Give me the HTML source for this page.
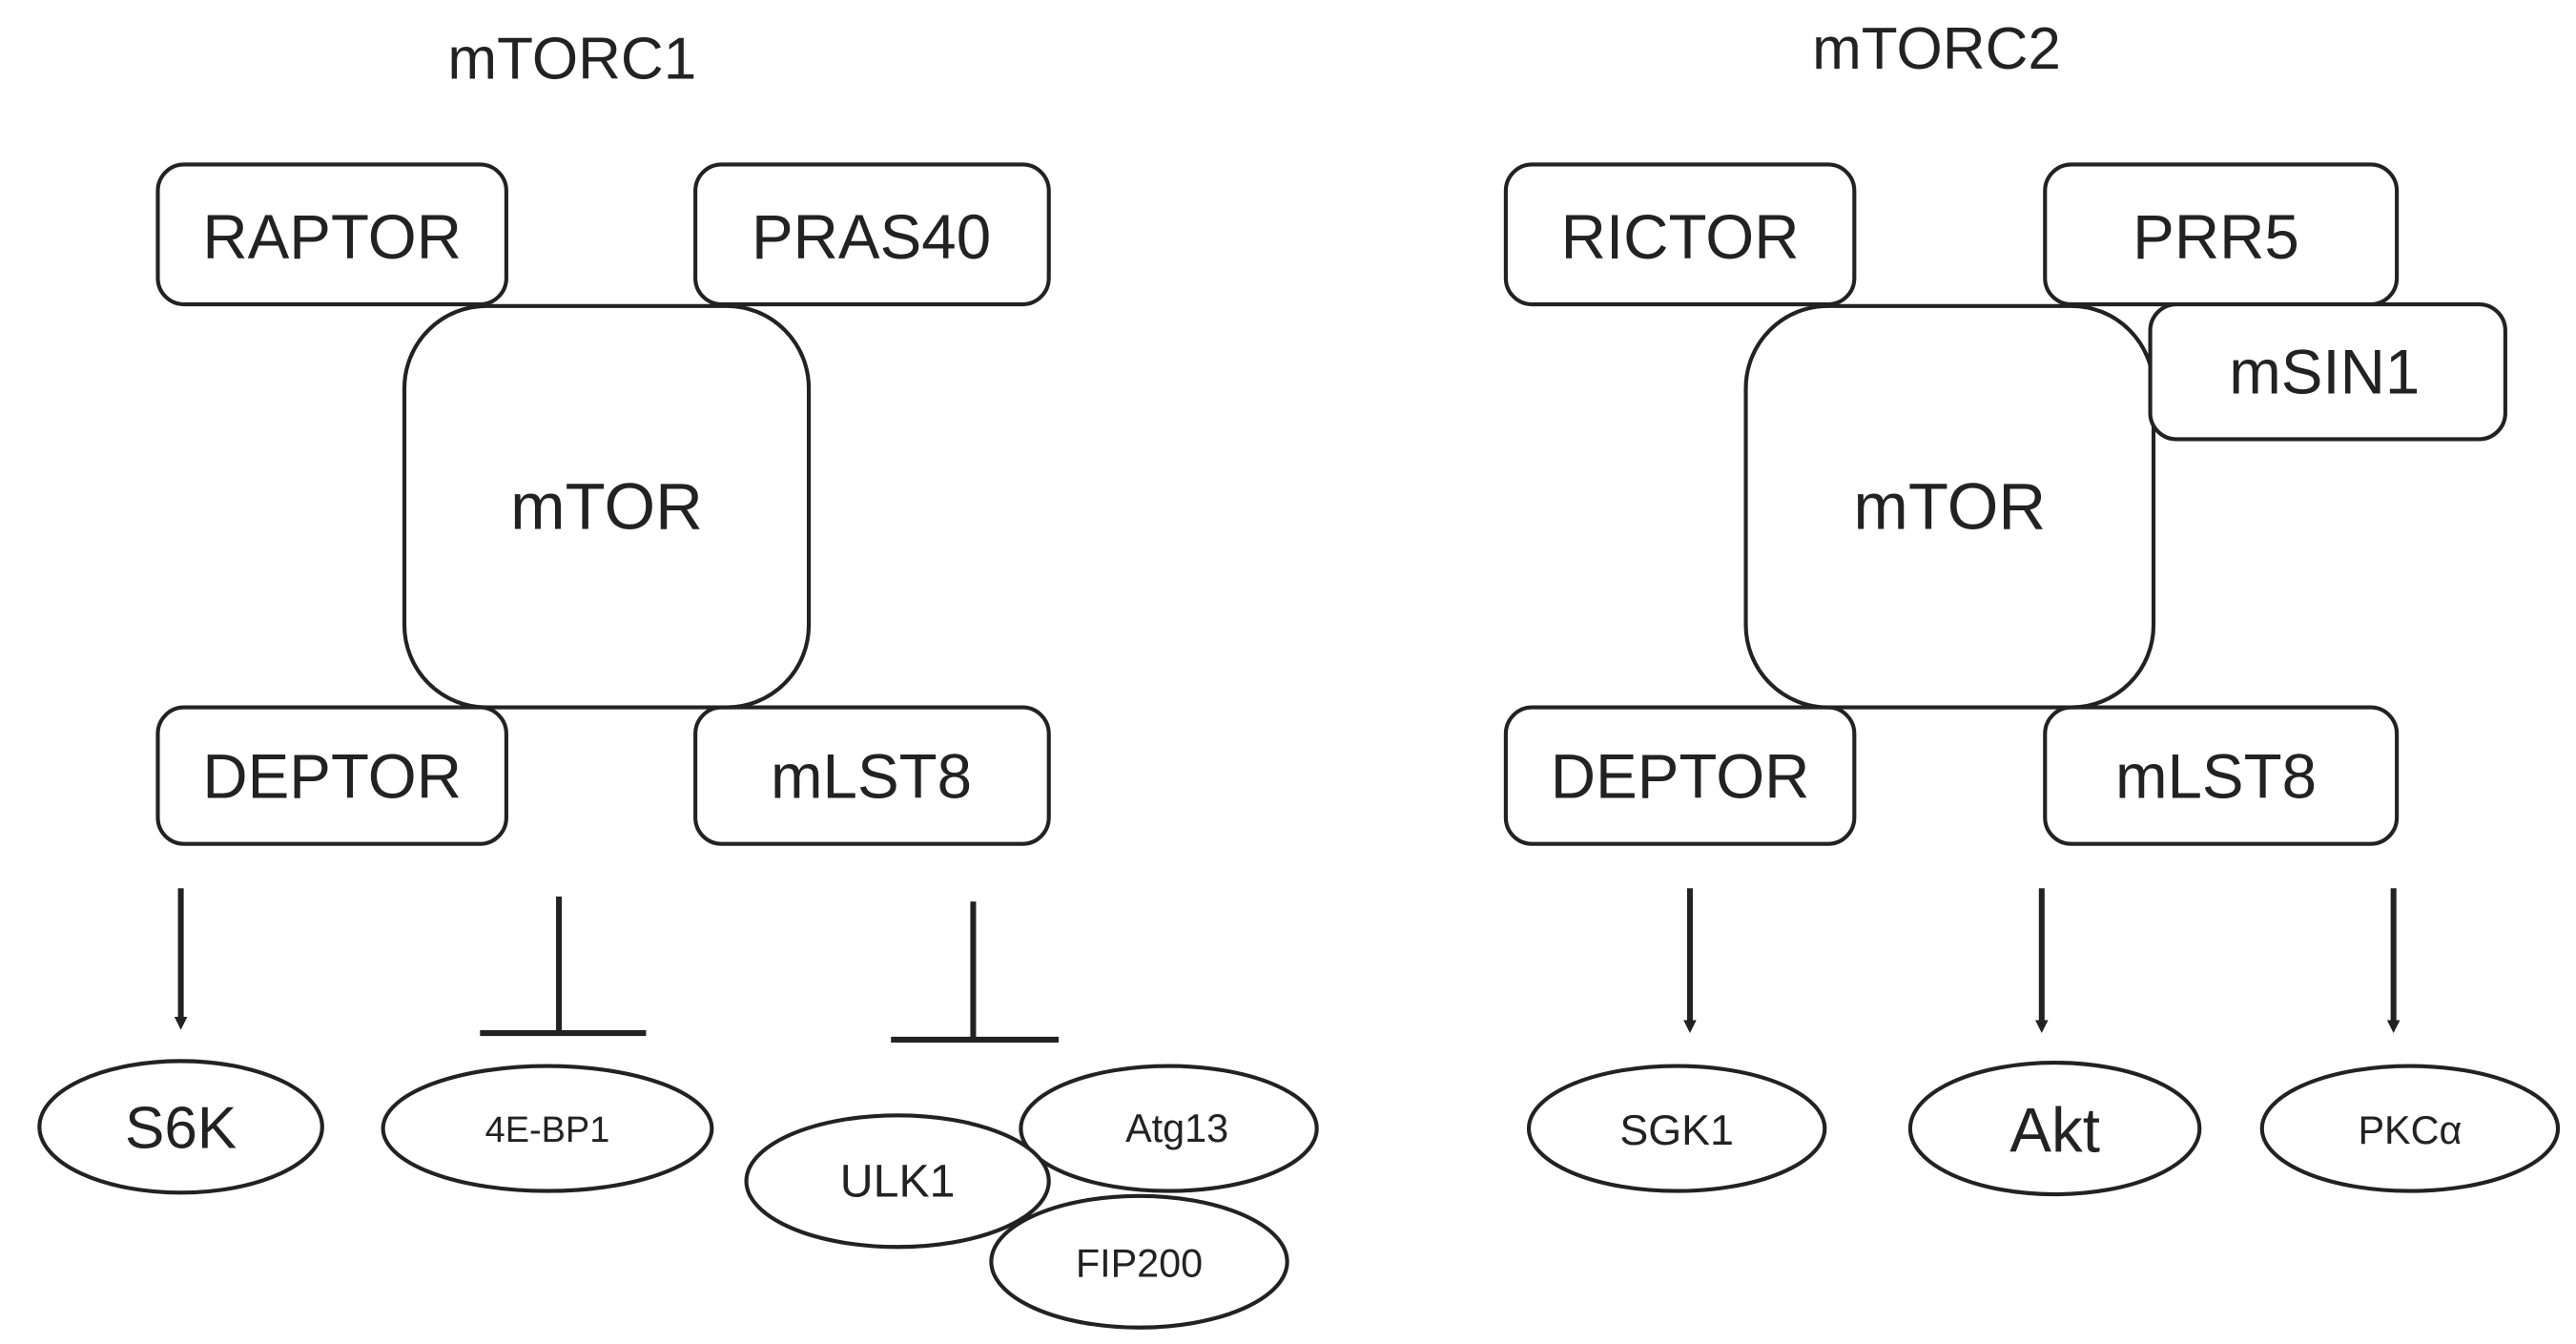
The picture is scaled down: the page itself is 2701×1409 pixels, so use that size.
<!DOCTYPE html>
<html><head><meta charset="utf-8"><style>
html,body{margin:0;padding:0;background:#fff;}
svg{display:block;}
text{font-family:"Liberation Sans",sans-serif;fill:#222;text-anchor:middle;dominant-baseline:central;}
.b{fill:#fff;stroke:#222;stroke-width:2.4;}
.l{stroke:#222;stroke-width:3.5;fill:none;}
</style></head><body>
<svg width="2701" height="1409" viewBox="0 0 1567 817" preserveAspectRatio="none">
<defs><marker id="a" markerWidth="8" markerHeight="8" refX="4" refY="4" orient="auto" markerUnits="userSpaceOnUse" viewBox="0 0 8 8"><path d="M0,0 L8,4 L0,8 z" fill="#222"/></marker></defs>
<text x="348" y="36" font-size="36">mTORC1</text>
<text x="1178" y="30" font-size="36">mTORC2</text>

<rect class="b" x="96" y="100" width="212" height="85" rx="16"/>
<text x="202" y="144" font-size="38">RAPTOR</text>
<rect class="b" x="423" y="100" width="215" height="85" rx="16"/>
<text x="530" y="144" font-size="38">PRAS40</text>
<rect class="b" x="96" y="430" width="212" height="83" rx="16"/>
<text x="202" y="472" font-size="38">DEPTOR</text>
<rect class="b" x="423" y="430" width="215" height="83" rx="16"/>
<text x="530" y="472" font-size="38">mLST8</text>
<rect class="b" x="246" y="186" width="246" height="244" rx="50"/>
<text x="369" y="308" font-size="40">mTOR</text>

<rect class="b" x="916" y="100" width="212" height="85" rx="16"/>
<text x="1022" y="144" font-size="38">RICTOR</text>
<rect class="b" x="1244" y="100" width="214" height="85" rx="16"/>
<text x="1348" y="144" font-size="38">PRR5</text>
<rect class="b" x="916" y="430" width="212" height="83" rx="16"/>
<text x="1022" y="472" font-size="38">DEPTOR</text>
<rect class="b" x="1244" y="430" width="214" height="83" rx="16"/>
<text x="1348" y="472" font-size="38">mLST8</text>
<rect class="b" x="1062" y="186" width="248" height="244" rx="50"/>
<text x="1186" y="308" font-size="40">mTOR</text>
<rect class="b" x="1308" y="185" width="216" height="82" rx="16"/>
<text x="1414" y="226" font-size="38">mSIN1</text>

<line class="l" x1="110" y1="540" x2="110" y2="622" marker-end="url(#a)"/>
<line class="l" x1="340" y1="545" x2="340" y2="628"/>
<line class="l" x1="292" y1="628" x2="393" y2="628"/>
<line class="l" x1="592" y1="548" x2="592" y2="632"/>
<line class="l" x1="542" y1="632" x2="644" y2="632"/>
<line class="l" x1="1028" y1="540" x2="1028" y2="624" marker-end="url(#a)"/>
<line class="l" x1="1242" y1="540" x2="1242" y2="624" marker-end="url(#a)"/>
<line class="l" x1="1456" y1="540" x2="1456" y2="624" marker-end="url(#a)"/>

<ellipse class="b" cx="110" cy="685" rx="86" ry="40"/>
<text x="110" y="686" font-size="36">S6K</text>
<ellipse class="b" cx="333" cy="686" rx="100" ry="38"/>
<text x="333" y="687" font-size="22">4E-BP1</text>
<ellipse class="b" cx="711" cy="686" rx="90" ry="38"/>
<text x="716" y="686" font-size="24">Atg13</text>
<ellipse class="b" cx="693" cy="767" rx="90" ry="40"/>
<text x="693" y="768" font-size="24">FIP200</text>
<ellipse class="b" cx="546" cy="718" rx="92" ry="40"/>
<text x="546" y="718" font-size="28">ULK1</text>

<ellipse class="b" cx="1020" cy="686" rx="90" ry="38"/>
<text x="1020" y="687" font-size="26">SGK1</text>
<ellipse class="b" cx="1250" cy="686" rx="88" ry="40"/>
<text x="1250" y="687" font-size="38">Akt</text>
<ellipse class="b" cx="1466" cy="686" rx="90" ry="38"/>
<text x="1466" y="687" font-size="24">PKCα</text>
</svg>
</body></html>
